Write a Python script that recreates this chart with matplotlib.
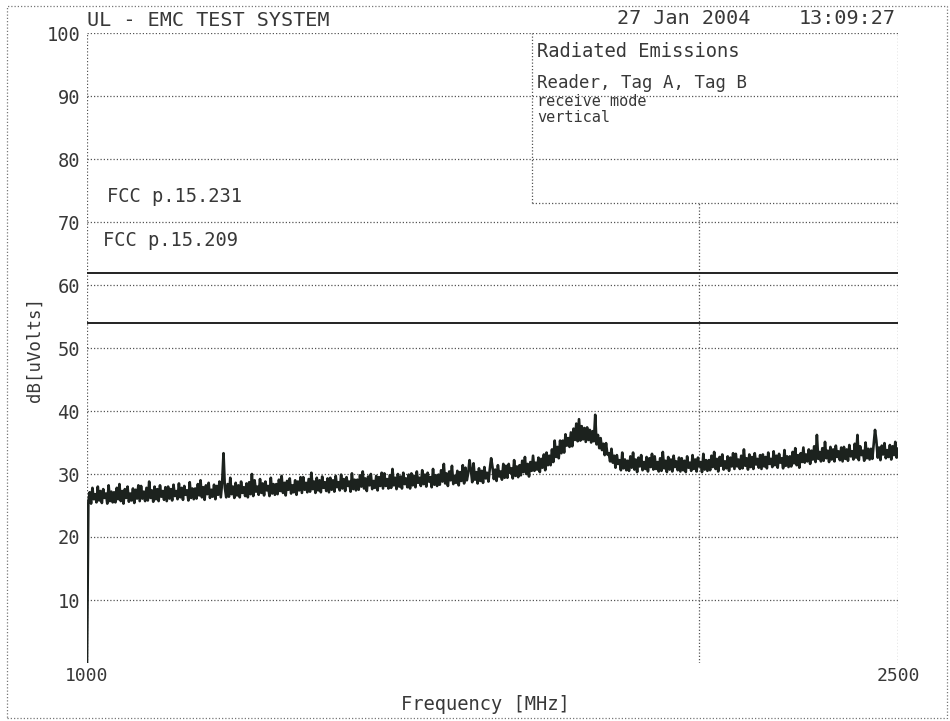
import numpy as np
import matplotlib
matplotlib.use("Agg")
import matplotlib.pyplot as plt
from matplotlib.patches import Rectangle

# sweep 1000 - 2500 MHz (2.5 MHz steps), measured level in dB[uVolts]
f_start, f_stop = 1000, 2500
level = [
    0.0, 25.6, 27.1, 25.3, 27.8, 26.0, 26.8, 25.5, 28.0, 25.8, 27.3, 25.4, 27.6, 26.2, 26.9, 25.3, 28.2, 25.7, 27.2, 25.5,
    27.1, 25.5, 27.8, 26.0, 28.4, 25.7, 27.3, 25.3, 27.6, 26.2, 28.0, 25.6, 26.9, 25.8, 27.7, 25.4, 27.5, 26.1, 28.2, 25.7,
    28.1, 26.1, 27.2, 25.7, 27.8, 25.8, 28.8, 26.2, 27.4, 25.6, 28.0, 26.0, 27.6, 25.7, 28.2, 26.4, 27.3, 25.9, 27.9, 25.7,
    28.0, 26.1, 27.6, 25.8, 28.3, 26.5, 27.3, 26.0, 28.5, 26.3, 27.8, 25.9, 28.1, 26.7, 27.4, 25.8, 28.7, 26.2, 27.7, 26.0,
    27.7, 26.1, 28.4, 26.6, 29.0, 26.3, 27.9, 25.9, 28.2, 26.8, 28.6, 26.2, 27.5, 26.4, 28.3, 26.0, 28.1, 26.7, 28.8, 26.3,
    28.7, 33.3, 27.8, 26.3, 28.4, 26.4, 29.4, 26.8, 28.0, 26.2, 28.6, 26.6, 28.2, 26.3, 28.8, 27.0, 27.9, 26.5, 28.5, 26.3,
    28.7, 26.8, 30.0, 26.5, 29.0, 27.2, 28.0, 26.7, 29.2, 27.0, 28.5, 26.6, 28.8, 27.4, 28.1, 26.5, 29.4, 26.9, 28.4, 26.7,
    28.4, 26.8, 29.1, 27.3, 29.7, 27.0, 28.6, 26.6, 28.9, 27.5, 29.3, 26.9, 28.2, 27.1, 29.0, 26.7, 28.8, 27.4, 29.5, 27.0,
    29.5, 27.5, 28.6, 27.1, 29.2, 27.2, 30.2, 27.6, 28.8, 27.0, 29.4, 27.4, 29.0, 27.1, 29.6, 27.8, 28.7, 27.3, 29.3, 27.1,
    29.4, 27.5, 29.0, 27.2, 29.7, 27.9, 28.7, 27.4, 29.9, 27.7, 29.2, 27.3, 29.5, 28.1, 28.8, 27.2, 30.1, 27.6, 29.1, 27.4,
    29.1, 27.5, 29.8, 28.0, 30.4, 27.7, 29.3, 27.3, 29.6, 28.2, 30.0, 27.6, 28.9, 27.8, 29.7, 27.4, 29.5, 28.1, 30.2, 27.7,
    30.1, 28.1, 29.2, 27.7, 29.8, 27.8, 30.8, 28.2, 29.4, 27.6, 30.0, 28.0, 29.6, 27.7, 30.2, 28.4, 29.3, 27.9, 29.9, 27.7,
    30.1, 28.2, 29.7, 27.9, 30.4, 28.6, 29.4, 28.1, 30.6, 28.4, 29.9, 28.0, 30.2, 28.8, 29.5, 27.9, 30.8, 28.3, 29.8, 28.1,
    29.9, 28.3, 30.6, 28.8, 31.6, 28.5, 30.1, 28.1, 30.4, 29.0, 31.3, 28.4, 29.7, 28.6, 30.5, 28.2, 30.3, 28.9, 31.4, 28.5,
    31.0, 29.0, 30.1, 32.2, 30.7, 28.7, 31.7, 29.1, 30.3, 28.5, 30.9, 28.9, 30.5, 28.6, 31.1, 29.3, 30.2, 28.8, 30.8, 32.5,
    31.1, 29.2, 30.7, 28.9, 31.4, 29.6, 30.4, 29.1, 31.6, 29.4, 31.3, 29.4, 31.6, 30.2, 30.9, 29.3, 32.2, 29.7, 31.2, 29.5,
    31.4, 29.8, 32.1, 30.3, 32.7, 30.0, 31.6, 29.6, 31.9, 30.5, 32.9, 30.5, 31.8, 30.7, 32.6, 30.3, 32.4, 31.0, 33.1, 30.6,
    33.4, 31.4, 32.9, 31.4, 33.9, 31.9, 35.3, 32.7, 34.3, 32.5, 35.3, 33.3, 35.3, 33.4, 36.3, 34.5, 35.7, 34.3, 36.6, 34.4,
    37.2, 35.4, 38.0, 35.2, 38.7, 35.3, 37.6, 35.5, 37.3, 35.1, 37.4, 35.4, 37.0, 35.0, 36.8, 35.2, 39.4, 34.7, 36.2, 34.1,
    35.7, 33.8, 34.8, 33.0, 34.9, 33.1, 33.3, 32.0, 34.0, 31.8, 32.9, 31.0, 33.0, 31.6, 32.2, 30.6, 33.4, 30.9, 32.3, 30.6,
    32.1, 30.5, 32.8, 31.0, 33.4, 30.7, 32.3, 30.3, 32.6, 31.2, 33.0, 30.6, 31.9, 30.8, 32.7, 30.4, 32.5, 31.1, 33.2, 30.7,
    32.8, 30.8, 31.9, 30.4, 32.5, 30.5, 33.5, 30.9, 32.1, 30.3, 32.7, 30.7, 32.3, 30.4, 32.9, 31.1, 32.0, 30.6, 32.6, 30.4,
    32.5, 30.6, 32.1, 30.3, 32.8, 31.0, 31.8, 30.5, 33.0, 30.8, 32.3, 30.4, 32.6, 31.2, 31.9, 30.3, 33.2, 30.7, 32.2, 30.5,
    32.2, 30.6, 32.9, 31.1, 33.5, 30.8, 32.4, 30.4, 32.7, 31.3, 33.1, 30.7, 32.0, 30.9, 32.8, 30.5, 32.6, 31.2, 33.3, 30.8,
    33.2, 31.2, 32.3, 30.8, 32.9, 30.9, 33.9, 31.3, 32.5, 30.7, 33.1, 31.1, 32.7, 30.8, 33.3, 31.5, 32.4, 31.0, 33.0, 30.8,
    33.1, 31.2, 32.7, 30.9, 33.4, 31.6, 32.4, 31.1, 33.6, 31.4, 32.9, 31.0, 33.2, 31.8, 32.5, 30.9, 33.8, 31.3, 32.8, 31.1,
    32.8, 31.2, 33.5, 31.7, 34.1, 31.4, 33.0, 31.0, 33.3, 31.9, 34.2, 31.8, 33.1, 32.0, 33.9, 31.6, 33.7, 32.3, 34.4, 31.9,
    36.2, 32.4, 33.5, 32.0, 34.1, 32.1, 35.1, 32.5, 33.7, 31.9, 34.3, 32.3, 33.9, 32.0, 34.5, 32.7, 33.6, 32.2, 34.2, 32.0,
    34.3, 32.4, 33.9, 32.1, 34.6, 32.8, 33.6, 32.3, 34.8, 32.6, 36.2, 32.2, 34.4, 33.0, 33.7, 32.1, 35.0, 32.5, 34.0, 32.3,
    34.0, 32.4, 34.7, 37.0, 35.3, 32.6, 34.2, 32.2, 34.5, 33.1, 34.9, 32.5, 33.8, 32.7, 34.6, 32.3, 34.4, 33.0, 35.1, 32.6,
    34.0,
]

grid_levels = [10, 20, 30, 40, 50, 60, 70, 80, 90, 100]
limit_levels = [61.9, 54.0]
limit_names = ["FCC p.15.231", "FCC p.15.209"]
limit_label_pos = [(1037, 74.1), (1030, 67.0)]
marker_freq = 2132
box_freq = 1823
box_level = 73
box_lines = ["Radiated Emissions", "Reader, Tag A, Tag B", "receive mode", "vertical"]

MONO = "DejaVu Sans Mono"
INK = "#383838"
DOTS = (0, (1, 1.6))

freq = np.linspace(f_start, f_stop, len(level))

fig = plt.figure(figsize=(9.5, 7.21), dpi=100)
ax = fig.add_axes([87 / 950, 1 - 663 / 721, 811 / 950, 630 / 721])
ax.set_xlim(f_start, f_stop)
ax.set_ylim(0, 100)
for s in ax.spines.values():
    s.set_visible(False)

# dotted graticule
ax.hlines(grid_levels, f_start, f_stop, colors="#555555", linewidth=0.9, linestyles=[DOTS])
ax.vlines([f_start, f_stop], 0, 100, colors="#555555", linewidth=0.9, linestyles=[DOTS])
ax.vlines(marker_freq, 0, box_level, colors="#555555", linewidth=0.9, linestyles=[DOTS])
# annotation box
ax.vlines(box_freq, box_level, 100, colors="#555555", linewidth=0.9, linestyles=[DOTS])
ax.hlines(box_level, box_freq, f_stop, colors="#555555", linewidth=0.9, linestyles=[DOTS])

# limit lines
for lv in limit_levels:
    ax.hlines(lv, f_start, f_stop, colors="#222222", linewidth=1.4)
for name, (fx, fy) in zip(limit_names, limit_label_pos):
    ax.text(fx, fy, name, family=MONO, fontsize=13.5, color=INK, va="center", ha="left")

# trace
ax.plot(freq, level, color="#1c221e", linewidth=1.9)

ax.set_yticks(grid_levels)
ax.set_yticklabels([str(v) for v in grid_levels], family=MONO, fontsize=13.5, color=INK)
ax.set_xticks([f_start, f_stop])
ax.set_xticklabels([str(f_start), str(f_stop)], family=MONO, fontsize=13, color=INK)
ax.tick_params(axis="y", length=0, pad=5)
ax.tick_params(axis="x", length=0, pad=3)

box_y = [97.0, 92.1, 89.2, 86.6]
box_fs = [13.5, 12.5, 11, 11]
for txt, yy, fs in zip(box_lines, box_y, box_fs):
    ax.text(box_freq + 9, yy, txt, family=MONO, fontsize=fs, color=INK, va="center", ha="left")

# header and axis titles
fig.text(87 / 950, 1 - 20 / 721, "UL - EMC TEST SYSTEM", family=MONO, fontsize=14.5,
         color=INK, va="center", ha="left")
fig.text(617 / 950, 1 - 19 / 721, "27 Jan 2004", family=MONO, fontsize=14.5,
         color=INK, va="center", ha="left")
fig.text(896 / 950, 1 - 19 / 721, "13:09:27", family=MONO, fontsize=14.5,
         color=INK, va="center", ha="right")
fig.text(485 / 950, 1 - 705 / 721, "Frequency [MHz]", family=MONO, fontsize=13.5,
         color=INK, va="center", ha="center")
fig.text(35 / 950, 1 - 350 / 721, "dB[uVolts]", family=MONO, fontsize=12.5,
         color=INK, va="center", ha="center", rotation=90)

# dotted page frame
fig.patches.append(Rectangle((7 / 950, 1 - 718 / 721), 940 / 950, 712 / 721,
                             transform=fig.transFigure, fill=False,
                             edgecolor="#777777", linewidth=0.9, linestyle=DOTS))

fig.savefig("out.png", dpi=100)
